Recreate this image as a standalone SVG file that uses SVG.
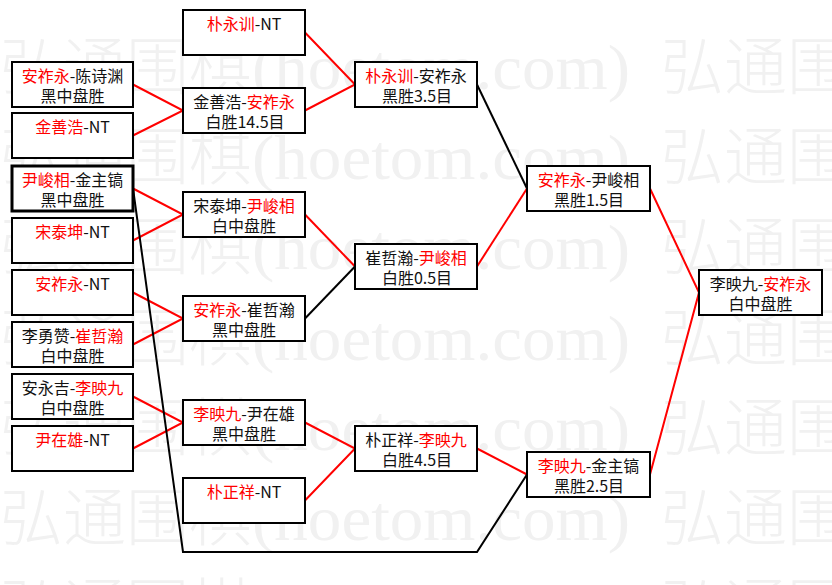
<svg xmlns="http://www.w3.org/2000/svg" width="832" height="585" viewBox="0 0 832 585">
<style>
.bg{fill:#ffffff}
.wm{font-family:"Noto Sans CJK SC","Liberation Serif",serif;font-size:63px;font-weight:300;fill:#f1f1f1}
.wl{font-family:"Liberation Serif","Noto Sans CJK SC",serif;font-size:63px;fill:#f1f1f1}
.box{fill:#ffffff;stroke:#000000;stroke-width:2}
.bold{stroke-width:3}
.t{font-family:"Noto Sans CJK SC","Noto Sans CJK JP",sans-serif;font-size:16px;fill:#111111;text-anchor:middle}
.r{fill:#ff0000}
.red{fill:none;stroke:#ff0000;stroke-width:2}
.blk{fill:none;stroke:#000000;stroke-width:2}
</style>
<rect class="bg" x="0" y="0" width="832" height="585"/>
<g id="watermark">
<text class="wm" x="0" y="89" textLength="252" lengthAdjust="spacingAndGlyphs">弘通围棋</text><text class="wl" x="252" y="89" textLength="378" lengthAdjust="spacingAndGlyphs">(hoetom.com)</text><text class="wm" x="661" y="89" textLength="252" lengthAdjust="spacingAndGlyphs">弘通围棋</text>
<text class="wm" x="0" y="179" textLength="252" lengthAdjust="spacingAndGlyphs">弘通围棋</text><text class="wl" x="252" y="179" textLength="378" lengthAdjust="spacingAndGlyphs">(hoetom.com)</text><text class="wm" x="661" y="179" textLength="252" lengthAdjust="spacingAndGlyphs">弘通围棋</text>
<text class="wm" x="0" y="269" textLength="252" lengthAdjust="spacingAndGlyphs">弘通围棋</text><text class="wl" x="252" y="269" textLength="378" lengthAdjust="spacingAndGlyphs">(hoetom.com)</text><text class="wm" x="661" y="269" textLength="252" lengthAdjust="spacingAndGlyphs">弘通围棋</text>
<text class="wm" x="0" y="360" textLength="252" lengthAdjust="spacingAndGlyphs">弘通围棋</text><text class="wl" x="252" y="360" textLength="378" lengthAdjust="spacingAndGlyphs">(hoetom.com)</text><text class="wm" x="661" y="360" textLength="252" lengthAdjust="spacingAndGlyphs">弘通围棋</text>
<text class="wm" x="0" y="450" textLength="252" lengthAdjust="spacingAndGlyphs">弘通围棋</text><text class="wl" x="252" y="450" textLength="378" lengthAdjust="spacingAndGlyphs">(hoetom.com)</text><text class="wm" x="661" y="450" textLength="252" lengthAdjust="spacingAndGlyphs">弘通围棋</text>
<text class="wm" x="0" y="540" textLength="252" lengthAdjust="spacingAndGlyphs">弘通围棋</text><text class="wl" x="252" y="540" textLength="378" lengthAdjust="spacingAndGlyphs">(hoetom.com)</text><text class="wm" x="661" y="540" textLength="252" lengthAdjust="spacingAndGlyphs">弘通围棋</text>
<text class="wm" x="0" y="630" textLength="252" lengthAdjust="spacingAndGlyphs">弘通围棋</text><text class="wl" x="252" y="630" textLength="378" lengthAdjust="spacingAndGlyphs">(hoetom.com)</text><text class="wm" x="661" y="630" textLength="252" lengthAdjust="spacingAndGlyphs">弘通围棋</text>
</g>
<g id="connectors">
<path class="red" d="M133,84.5 L183,110.5 L133,135.5"/>
<path class="red" d="M133,188.5 L183,214.5 L133,240.5"/>
<path class="red" d="M133,292.5 L183,318.5 L133,344.5"/>
<path class="red" d="M133,396.5 L183,422.5 L133,448.5"/>
<path class="red" d="M305,32.5 L355,84.5 L305,110.5"/>
<path class="red" d="M305,214.5 L355,266.5"/>
<path class="blk" d="M305,318.5 L355,266.5"/>
<path class="red" d="M305,422.5 L355,448.5 L305,500.5"/>
<path class="blk" d="M477,84.5 L527,188.5"/>
<path class="red" d="M477,266.5 L527,188.5"/>
<path class="red" d="M477,448.5 L527,474.5"/>
<path class="blk" d="M133,188.5 L183,552 L477,552 L527,474.5"/>
<path class="red" d="M650,188.5 L699,292.5 L650,474.5"/>
</g>
<g id="n-a"><rect class="box" x="12" y="62" width="121" height="45"/><text class="t" x="72.5" y="82"><tspan class="r">安祚永</tspan>-陈诗渊</text><text class="t" x="72.5" y="102">黑中盘胜</text></g>
<g id="n-b"><rect class="box" x="12" y="113" width="121" height="45"/><text class="t" x="72.5" y="133"><tspan class="r">金善浩</tspan>-NT</text></g>
<g id="n-c"><rect class="box bold" x="12" y="166" width="121" height="45"/><text class="t" x="72.5" y="186"><tspan class="r">尹峻相</tspan>-金主镐</text><text class="t" x="72.5" y="206">黑中盘胜</text></g>
<g id="n-d"><rect class="box" x="12" y="218" width="121" height="45"/><text class="t" x="72.5" y="238"><tspan class="r">宋泰坤</tspan>-NT</text></g>
<g id="n-e"><rect class="box" x="12" y="270" width="121" height="45"/><text class="t" x="72.5" y="290"><tspan class="r">安祚永</tspan>-NT</text></g>
<g id="n-f"><rect class="box" x="12" y="322" width="121" height="45"/><text class="t" x="72.5" y="342">李勇赞-<tspan class="r">崔哲瀚</tspan></text><text class="t" x="72.5" y="362">白中盘胜</text></g>
<g id="n-g"><rect class="box" x="12" y="374" width="121" height="45"/><text class="t" x="72.5" y="394">安永吉-<tspan class="r">李映九</tspan></text><text class="t" x="72.5" y="414">白中盘胜</text></g>
<g id="n-h"><rect class="box" x="12" y="426" width="121" height="45"/><text class="t" x="72.5" y="446"><tspan class="r">尹在雄</tspan>-NT</text></g>
<g id="n-p1"><rect class="box" x="183" y="10" width="122" height="45"/><text class="t" x="244" y="30"><tspan class="r">朴永训</tspan>-NT</text></g>
<g id="n-p2"><rect class="box" x="183" y="88" width="122" height="45"/><text class="t" x="244" y="108">金善浩-<tspan class="r">安祚永</tspan></text><text class="t" x="245" y="128">白胜14.5目</text></g>
<g id="n-p3"><rect class="box" x="183" y="192" width="122" height="45"/><text class="t" x="244" y="212">宋泰坤-<tspan class="r">尹峻相</tspan></text><text class="t" x="244" y="232">白中盘胜</text></g>
<g id="n-p4"><rect class="box" x="183" y="296" width="122" height="45"/><text class="t" x="244" y="316"><tspan class="r">安祚永</tspan>-崔哲瀚</text><text class="t" x="244" y="336">黑中盘胜</text></g>
<g id="n-p5"><rect class="box" x="183" y="400" width="122" height="45"/><text class="t" x="244" y="420"><tspan class="r">李映九</tspan>-尹在雄</text><text class="t" x="244" y="440">黑中盘胜</text></g>
<g id="n-p6"><rect class="box" x="183" y="478" width="122" height="45"/><text class="t" x="244" y="498"><tspan class="r">朴正祥</tspan>-NT</text></g>
<g id="n-q1"><rect class="box" x="355" y="62" width="122" height="45"/><text class="t" x="416" y="82"><tspan class="r">朴永训</tspan>-安祚永</text><text class="t" x="417" y="102">黑胜3.5目</text></g>
<g id="n-q2"><rect class="box" x="355" y="244" width="122" height="45"/><text class="t" x="416" y="264">崔哲瀚-<tspan class="r">尹峻相</tspan></text><text class="t" x="417" y="284">白胜0.5目</text></g>
<g id="n-q3"><rect class="box" x="355" y="426" width="122" height="45"/><text class="t" x="416" y="446">朴正祥-<tspan class="r">李映九</tspan></text><text class="t" x="417" y="466">白胜4.5目</text></g>
<g id="n-r1"><rect class="box" x="527" y="166" width="123" height="45"/><text class="t" x="588.5" y="186"><tspan class="r">安祚永</tspan>-尹峻相</text><text class="t" x="589" y="206">黑胜1.5目</text></g>
<g id="n-r2"><rect class="box" x="527" y="452" width="123" height="45"/><text class="t" x="588.5" y="472"><tspan class="r">李映九</tspan>-金主镐</text><text class="t" x="589" y="492">黑胜2.5目</text></g>
<g id="n-s"><rect class="box" x="699" y="270" width="123" height="45"/><text class="t" x="760.5" y="290">李映九-<tspan class="r">安祚永</tspan></text><text class="t" x="760.5" y="310">白中盘胜</text></g>
</svg>
